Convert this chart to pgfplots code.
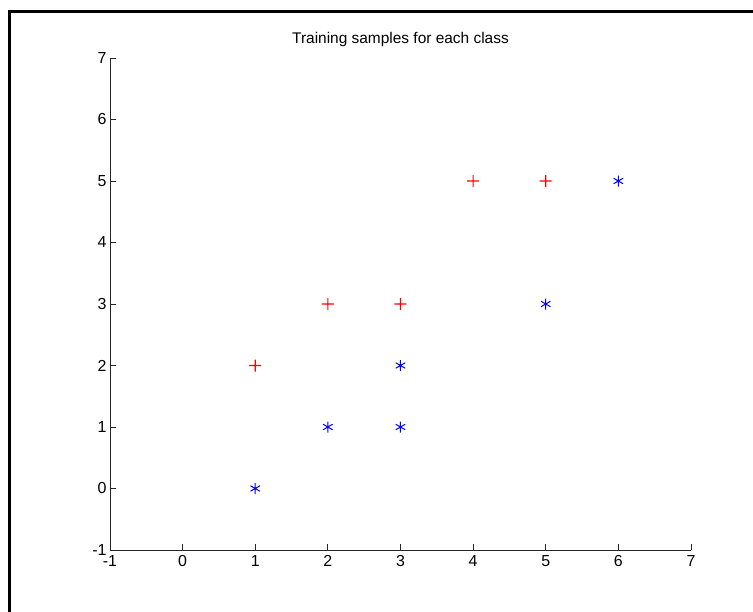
\documentclass[border=0pt]{standalone}
\usepackage{fontspec}
\setmainfont{Liberation Sans}
\usepackage{pgfplots}
\pgfplotsset{compat=1.18}
% "+" built from two filled bars
\pgfdeclareplotmark{plusfill}{%
  \pgfpathrectangle{\pgfpoint{-\pgfplotmarksize}{-0.6bp}}{\pgfpoint{2\pgfplotmarksize}{1.2bp}}%
  \pgfpathrectangle{\pgfpoint{-0.6bp}{-\pgfplotmarksize}}{\pgfpoint{1.2bp}{2\pgfplotmarksize}}%
  \pgfusepathqfill}
\begin{document}
\begin{tikzpicture}
% data origin (0,0) sits at pixel (182.6, 488.5) of the 753x612 frame
\useasboundingbox (-182.6bp,-123.5bp) rectangle (570.4bp,488.5bp);
\fill[white] (-182.6bp,-123.5bp) rectangle (570.4bp,488.5bp);
\draw[black, line width=3bp] (-173.1bp,-123.5bp) -- (-173.1bp,477bp) -- (570.4bp,477bp);
\begin{axis}[
  at={(0,0)}, anchor=origin,
  scale only axis,
  width=581bp, height=492bp,
  xmin=-1, xmax=7, ymin=-1, ymax=7,
  xtick={-1,0,...,7}, ytick={-1,0,...,7},
  axis x line=bottom, axis y line=left,
  axis line style={-, black!85, line width=0.9bp},
  tick style={black!85, line width=0.9bp},
  tick align=inside,
  major tick length=6bp,
  ticklabel style={font=\fontsize{16}{18}\selectfont},
  /pgf/number format/assume math mode=true,
  xticklabel style={yshift=-2bp},
  yticklabel style={xshift=0bp},
  title={Training samples for each class},
  title style={font=\fontsize{15.5}{18}\selectfont, yshift=2bp},
  clip=false,
]
\addplot[only marks, mark=plusfill, mark size=6bp, color=red, mark options={fill=red, draw=none}] coordinates {
  (1,2) (2,3) (3,3) (4,5) (5,5)
};
\addplot[only marks, mark=asterisk, mark size=5.5bp, color=blue, mark options={line width=1bp}] coordinates {
  (1,0) (2,1) (3,1) (3,2) (5,3) (6,5)
};
\end{axis}
\end{tikzpicture}
\end{document}
